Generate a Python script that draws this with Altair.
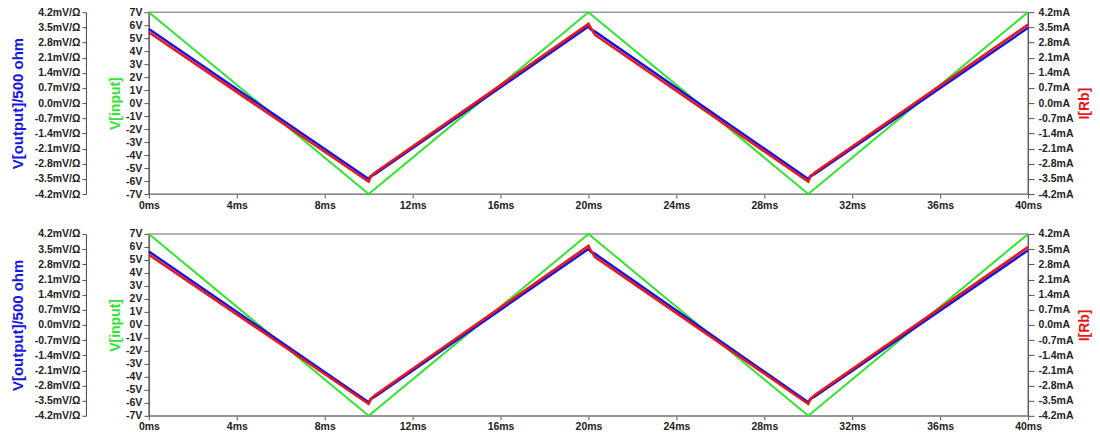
import altair as alt
import pandas as pd

# ---- data ----
T_IN = [0, 10, 20, 30, 40]
V_IN = [7, -7, 7, -7, 7]                      # V[input] in V

T_OUT = [0, 10, 10.1, 10.3, 20, 20.1, 20.3, 30, 30.1, 30.3, 40]
# V[output]/500 ohm in mV/Ω
VOUT_TOP = [3.42, -3.51, -3.37, -3.27, 3.54, 3.41, 3.30, -3.51, -3.37, -3.27, 3.48]
# I[Rb] in mA
IRB_TOP = [3.27, -3.63, -3.39, -3.21, 3.66, 3.48, 3.15, -3.63, -3.39, -3.21, 3.63]

VOUT_BOT = [3.39, -3.57, -3.42, -3.30, 3.51, 3.39, 3.28, -3.57, -3.42, -3.30, 3.45]
IRB_BOT = [3.24, -3.65, -3.42, -3.24, 3.65, 3.45, 3.13, -3.65, -3.42, -3.24, 3.60]

X_TICKS = list(range(0, 41, 4))
V_TICKS = list(range(-7, 8))
I_TICKS = [-4.2, -3.5, -2.8, -2.1, -1.4, -0.7, 0.0, 0.7, 1.4, 2.1, 2.8, 3.5, 4.2]

GREEN = "#2ee62e"
BLUE = "#1515e6"
RED = "#ee1515"

LABEL_FONT = "Liberation Sans"
TITLE_FONT = "Liberation Sans"
H = 182

common_axis = dict(
    grid=False,
    labelFont=LABEL_FONT,
    labelFontSize=10.5,
    labelFontWeight="bold",
    labelColor="#222222",
    labelOverlap=False,
    tickColor="#555555",
    titleFont=TITLE_FONT,
    titleFontWeight="bold",
)


def x_enc():
    return alt.X(
        "t:Q",
        scale=alt.Scale(domain=[0, 40], nice=False, zero=False),
        axis=alt.Axis(
            values=X_TICKS,
            labelExpr="datum.value + 'ms'",
            title=None,
            labelFlush=False,
            labelPadding=2,
            tickSize=4,
            domainColor="#888888",
            **common_axis,
        ),
    )


def panel(vout, irb):
    din = pd.DataFrame({"t": T_IN, "v": V_IN})
    dout = pd.DataFrame({"t": T_OUT, "vout": vout, "irb": irb})

    green = alt.Chart(din).mark_line(color=GREEN, strokeWidth=2).encode(
        x=x_enc(),
        y=alt.Y(
            "v:Q",
            scale=alt.Scale(domain=[-7, 7], nice=False, zero=False),
            axis=alt.Axis(
                orient="left",
                values=V_TICKS,
                labelExpr="(datum.value < 0 ? '-' : '') + abs(datum.value) + 'V'",
                title="V[input]",
                titleColor=GREEN,
                titleFontSize=14,
                titleAngle=270,
                titleBaseline="middle",
                titleX=-33,
                titleY=H / 2,
                tickSize=5,
                labelPadding=2,
                domainColor="#555555",
                **common_axis,
            ),
        ),
    )

    blue = alt.Chart(dout).mark_line(color=BLUE, strokeWidth=2.5).encode(
        x=x_enc(),
        y=alt.Y(
            "vout:Q",
            scale=alt.Scale(domain=[-4.2, 4.2], nice=False, zero=False),
            axis=alt.Axis(
                orient="left",
                offset=63,
                values=I_TICKS,
                labelExpr="(datum.value < 0 ? '-' : '') + format(abs(datum.value), '.1f') + 'mV/Ω'",
                title="V[output]/500 ohm",
                titleColor=BLUE,
                titleFontSize=15,
                titleAngle=270,
                titleBaseline="middle",
                titleX=-68,
                titleY=H / 2,
                tickSize=4,
                labelPadding=2,
                domainColor="#444444",
                **common_axis,
            ),
        ),
    )

    red = alt.Chart(dout).mark_line(color=RED, strokeWidth=2.5).encode(
        x=x_enc(),
        y=alt.Y(
            "irb:Q",
            scale=alt.Scale(domain=[-4.2, 4.2], nice=False, zero=False),
            axis=alt.Axis(
                orient="right",
                values=I_TICKS,
                labelExpr="(datum.value < 0 ? '-' : '') + format(abs(datum.value), '.1f') + 'mA'",
                title="I[Rb]",
                titleColor=RED,
                titleFontSize=14,
                titleAngle=270,
                titleBaseline="middle",
                titleX=56,
                titleY=H / 2,
                tickSize=6,
                labelPadding=4,
                domainColor="#555555",
                **common_axis,
            ),
        ),
    )

    return (
        alt.layer(green, blue, red)
        .resolve_scale(y="independent")
        .resolve_axis(y="independent")
        .properties(width=880, height=H)
    )


chart = (
    alt.vconcat(panel(VOUT_TOP, IRB_TOP), panel(VOUT_BOT, IRB_BOT), spacing=16)
    .properties(padding={"left": 2, "top": -2, "right": 0, "bottom": 0})
    .configure_view(stroke="#999999", strokeWidth=1.5)
)

chart.save("out.html", embed_options={"renderer": "svg", "actions": False})
